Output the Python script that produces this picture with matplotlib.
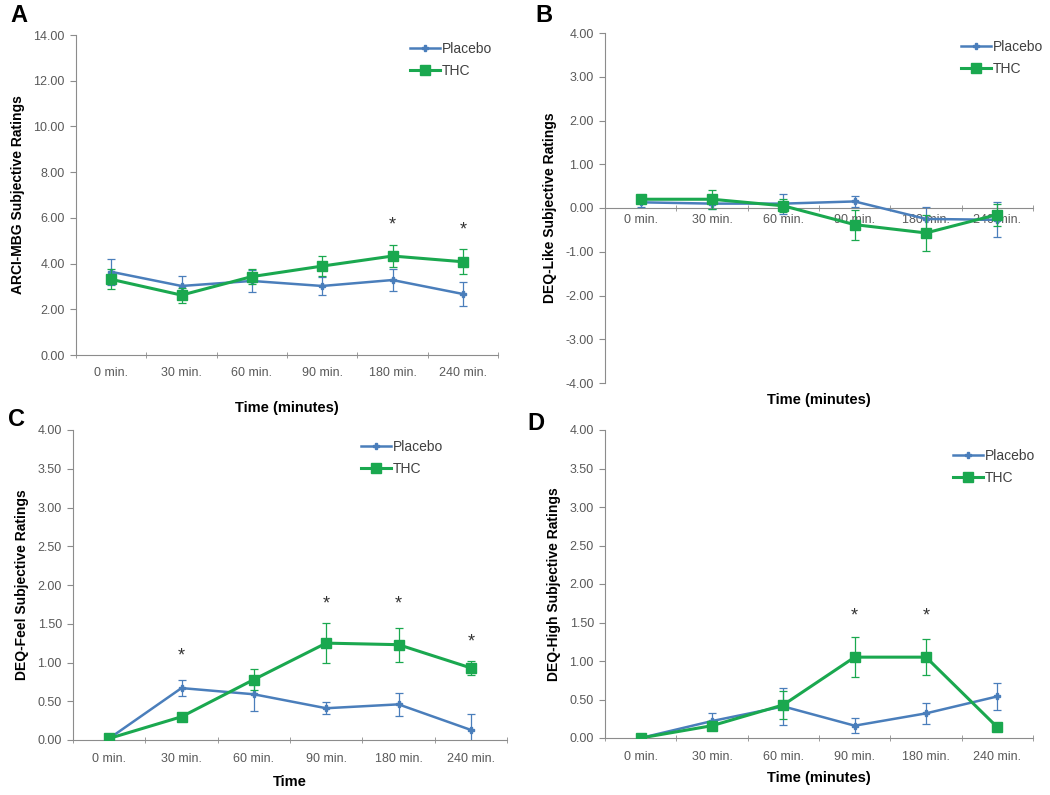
import numpy as np
import matplotlib
matplotlib.use("Agg")
import matplotlib.pyplot as plt
from matplotlib.lines import Line2D
from matplotlib.ticker import FixedLocator, FuncFormatter

plt.rcParams['font.family'] = ['Liberation Sans', 'DejaVu Sans']

# --- data -------------------------------------------------------------
times = ['0 min.', '30 min.', '60 min.', '90 min.', '180 min.', '240 min.']

# A: ARCI-MBG
a_placebo = [3.64, 3.02, 3.24, 3.02, 3.28, 2.67]
a_placebo_err = [0.58, 0.43, 0.47, 0.40, 0.50, 0.52]
a_thc = [3.31, 2.62, 3.43, 3.89, 4.33, 4.08]
a_thc_err = [0.44, 0.33, 0.32, 0.44, 0.48, 0.54]
a_stars = [(4, 5.7), (5, 5.45)]

# B: DEQ-Like
b_placebo = [0.13, 0.10, 0.10, 0.15, -0.25, -0.27]
b_placebo_err = [0.10, 0.12, 0.23, 0.12, 0.27, 0.40]
b_thc = [0.20, 0.20, 0.05, -0.38, -0.57, -0.15]
b_thc_err = [0.08, 0.22, 0.15, 0.34, 0.42, 0.25]
b_stars = []

# C: DEQ-Feel
c_placebo = [0.02, 0.67, 0.59, 0.41, 0.46, 0.13]
c_placebo_err = [0.02, 0.10, 0.22, 0.08, 0.15, 0.21]
c_thc = [0.02, 0.30, 0.78, 1.25, 1.23, 0.93]
c_thc_err = [0.02, 0.04, 0.13, 0.26, 0.22, 0.09]
c_stars = [(1, 1.08), (3, 1.75), (4, 1.75), (5, 1.26)]

# D: DEQ-High
d_placebo = [0.00, 0.22, 0.41, 0.16, 0.32, 0.54]
d_placebo_err = [0.02, 0.10, 0.24, 0.10, 0.14, 0.18]
d_thc = [0.00, 0.16, 0.43, 1.05, 1.05, 0.14]
d_thc_err = [0.02, 0.05, 0.18, 0.26, 0.23, 0.05]
d_stars = [(3, 1.58), (4, 1.58)]

blue = '#4a7ebb'
green = '#1aa84f'
tick_grey = '#595959'
axis_grey = '#8c8c8c'


# --- one panel --------------------------------------------------------
def draw_panel(rect, letter, letter_xy, pl, pl_err, th, th_err, stars,
               ylim, ystep, ylabel, xlabel, xlabel_y, legend_xy, zero_axis=False):
    ax = fig.add_axes(rect)
    x = np.arange(len(times))

    ax.errorbar(x, pl, yerr=pl_err, color=blue, lw=1.8, marker='P', ms=5,
                mec=blue, mfc=blue, elinewidth=0.9, capsize=3, capthick=0.9, zorder=3)
    ax.errorbar(x, th, yerr=th_err, color=green, lw=2.2, marker='s', ms=7,
                mec=green, mfc=green, elinewidth=0.9, capsize=3, capthick=0.9, zorder=4)

    for xi, yi in stars:
        ax.text(xi, yi, '*', ha='center', va='center', fontsize=13, color='#333333')

    ax.set_xlim(-0.5, len(times) - 0.5)
    ax.set_ylim(*ylim)
    ax.yaxis.set_major_locator(FixedLocator(np.arange(ylim[0], ylim[1] + 1e-9, ystep)))
    ax.yaxis.set_major_formatter(FuncFormatter(lambda v, p: '%.2f' % v))

    # category labels between boundary ticks, like a spreadsheet chart
    ax.set_xticks(x)
    ax.set_xticklabels(times)
    ax.xaxis.set_minor_locator(FixedLocator(np.arange(-0.5, len(times), 1.0)))
    ax.tick_params(axis='x', which='major', length=0, pad=9, labelsize=9, colors=tick_grey)
    ax.tick_params(axis='x', which='minor', length=5, direction='inout', color=axis_grey)
    ax.tick_params(axis='y', length=4, direction='out', color=axis_grey,
                   labelsize=9, colors=tick_grey, pad=4)

    for s in ['top', 'right']:
        ax.spines[s].set_visible(False)
    ax.spines['left'].set_color(axis_grey)
    ax.spines['bottom'].set_color(axis_grey)
    if zero_axis:
        ax.spines['bottom'].set_position(('data', 0))
        ax.tick_params(axis='x', which='major', pad=4)

    ax.set_ylabel(ylabel, fontsize=10, fontweight='bold', labelpad=6)
    fig.text(rect[0] + rect[2] / 2, xlabel_y, xlabel, ha='center', va='center',
             fontsize=10.5, fontweight='bold')
    fig.text(letter_xy[0], letter_xy[1], letter, ha='left', va='center',
             fontsize=17, fontweight='bold')

    handles = [Line2D([], [], color=blue, lw=1.8, marker='P', ms=5),
               Line2D([], [], color=green, lw=2.2, marker='s', ms=7)]
    leg = ax.legend(handles, ['Placebo', 'THC'], loc='upper left', bbox_to_anchor=legend_xy,
                    bbox_transform=fig.transFigure, frameon=False, fontsize=10,
                    handlelength=2.2, handletextpad=0.1, labelspacing=0.6, borderaxespad=0)
    for t in leg.get_texts():
        t.set_color('#404040')
    return ax


fig = plt.figure(figsize=(10.5, 7.95), dpi=100)
W, H = 1050.0, 795.0


def r(x0, y0, x1, y1):
    return [x0 / W, 1 - y1 / H, (x1 - x0) / W, (y1 - y0) / H]


draw_panel(r(76, 35, 498, 355), 'A', (10 / W, 1 - 16 / H),
           a_placebo, a_placebo_err, a_thc, a_thc_err, a_stars,
           (0, 14), 2, 'ARCI-MBG Subjective Ratings', 'Time (minutes)', 1 - 408 / H,
           (404 / W, 1 - 36 / H))
draw_panel(r(605, 33, 1033, 383), 'B', (535 / W, 1 - 16 / H),
           b_placebo, b_placebo_err, b_thc, b_thc_err, b_stars,
           (-4, 4), 1, 'DEQ-Like Subjective Ratings', 'Time (minutes)', 1 - 400 / H,
           (955 / W, 1 - 34 / H), zero_axis=True)
draw_panel(r(73, 430, 507, 740), 'C', (8 / W, 1 - 420 / H),
           c_placebo, c_placebo_err, c_thc, c_thc_err, c_stars,
           (0, 4), 0.5, 'DEQ-Feel Subjective Ratings', 'Time', 1 - 782 / H,
           (355 / W, 1 - 434 / H))
draw_panel(r(605, 430, 1033, 738), 'D', (527 / W, 1 - 423 / H),
           d_placebo, d_placebo_err, d_thc, d_thc_err, d_stars,
           (0, 4), 0.5, 'DEQ-High Subjective Ratings', 'Time (minutes)', 1 - 778 / H,
           (947 / W, 1 - 443 / H))

fig.savefig('out.png', dpi=100)
